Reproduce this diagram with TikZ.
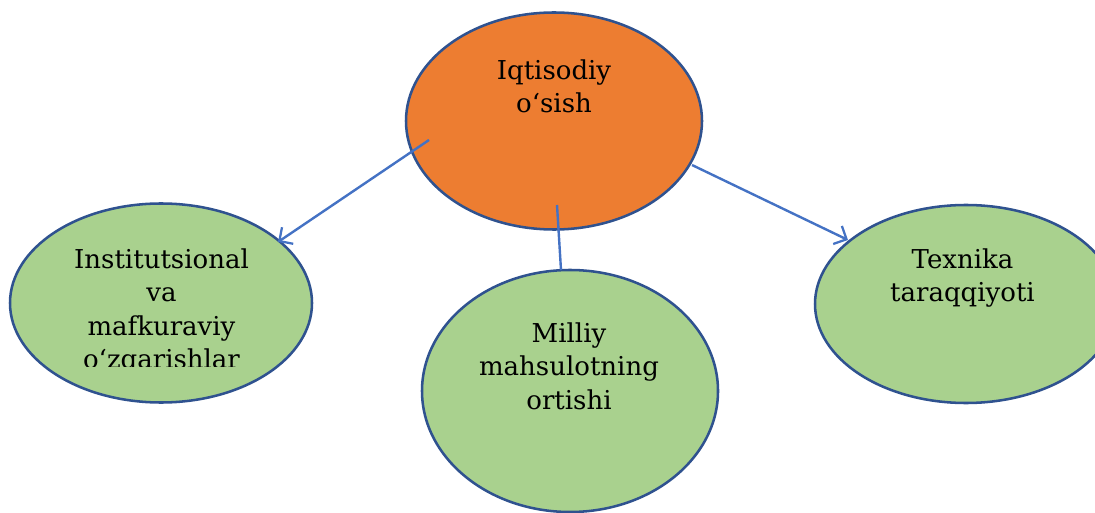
\documentclass[tikz,border=0pt]{standalone}
\usepackage{fontspec}
\setmainfont{DejaVu Serif}
\usetikzlibrary{shapes.geometric,arrows.meta}
\definecolor{orangefill}{HTML}{ED7D31}
\definecolor{greenfill}{HTML}{A9D18E}
\definecolor{borderblue}{HTML}{2F528F}
\definecolor{linkblue}{HTML}{4472C4}
\tikzset{
  bubble/.style={ellipse, draw=borderblue, line width=1.9pt, inner sep=0pt},
  label text/.style={anchor=north, align=center, inner sep=0pt, text=black,
    font=\fontsize{19.5pt}{25.1pt}\selectfont},
  link/.style={draw=linkblue, line width=1.8pt},
  arrowlink/.style={link, -{Straight Barb[length=7.5pt,width=15pt,line width=1.7pt]}}
}
\begin{document}
\begin{tikzpicture}[x=0.75pt,y=-0.75pt]
\useasboundingbox (0,0) rectangle (1095,513);
\clip (0,0) rectangle (1095,513);
% ellipses
\node[bubble, fill=orangefill, minimum width=296*0.75pt, minimum height=217*0.75pt] (T) at (554,121) {};
\node[bubble, fill=greenfill, minimum width=302*0.75pt, minimum height=199*0.75pt] (L) at (161,303) {};
\node[bubble, fill=greenfill, minimum width=296*0.75pt, minimum height=242*0.75pt] (M) at (570,391) {};
\node[bubble, fill=greenfill, minimum width=302*0.75pt, minimum height=198*0.75pt] (R) at (966,304) {};
% texts
\node[label text] (tT) at (554,55.6) {\strut Iqtisodiy\\o‘sish};
\begin{scope}
\clip (0,0) rectangle (1095,366);
\node[label text] (tL) at (161.5,244.6) {\strut Institutsional\\va\\mafkuraviy\\o‘zgarishlar};
\end{scope}
\node[label text] (tM) at (569,318.6) {\strut Milliy\\mahsulotning\\ortishi};
\node[label text] (tR) at (962.5,244.6) {\strut Texnika\\taraqqiyoti};
% connectors
\coordinate (sL) at (429,140);
\coordinate (sR) at (692,165);
\coordinate (sM) at (557,205);
\coordinate (eL) at (278,242);
\coordinate (eR) at (848,240);
\coordinate (eM) at (561,270);
\draw[arrowlink] (sL) -- (eL);
\draw[arrowlink] (sR) -- (eR);
\draw[link] (sM) -- (eM);
\end{tikzpicture}
\end{document}
